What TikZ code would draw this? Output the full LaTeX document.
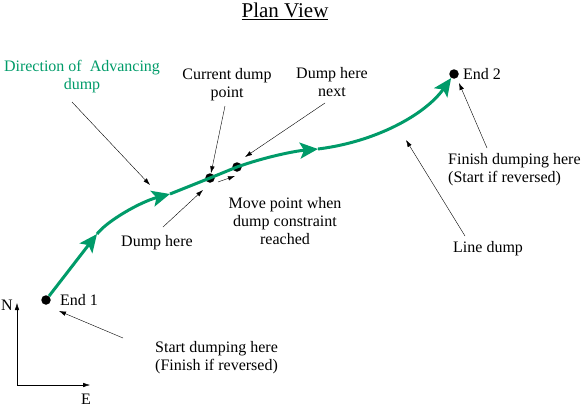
\documentclass[tikz,border=0pt]{standalone}
\usepackage{fontspec}
\setmainfont{Liberation Serif}
\usetikzlibrary{arrows.meta}
\definecolor{dumpgreen}{RGB}{0,155,105}
\begin{document}
\begin{tikzpicture}[x=1pt,y=-1pt,
        lbl/.style={inner sep=0pt,font=\fontsize{16}{18}\selectfont,align=center},
        dot/.style={circle,fill=black,inner sep=0pt,minimum size=9.5pt},
        pointer/.style={thin,-{Latex[length=7pt,width=4.5pt]}},
        advance/.style={dumpgreen,line width=3pt,-{Stealth[length=18pt,width=16pt,inset=4pt]}}]
        \useasboundingbox (0,0) rectangle (586,407);
        %% Title
        \node[lbl,font=\fontsize{21}{24}\selectfont] (title) at (285,11) {\underline{Plan View}};
        %% Dump points
        \node[dot] (e1) at (46,300) {};
        \node[dot] (dcur) at (210,178) {};
        \node[dot] (dnext) at (237,167) {};
        \node[dot] (e2) at (454,74) {};
        \coordinate (g1) at (97,234);
        \coordinate (g2) at (170,194);
        \coordinate (g3) at (318,149);
        %% Line dump
        \draw[advance] (e1) -- (g1);
        \draw[advance] (g1) .. controls (107,221) and (140,202) .. (g2);
        \draw[advance] (g2) -- (dcur.center) -- (dnext.center) .. controls (265,157) and (295,151) .. (g3);
        \draw[advance] (g3) .. controls (375,142) and (425,115) .. (e2);
        %% Labels
        \node[lbl,text=dumpgreen] (dir) at (82,77) {Direction of\ \ Advancing\\dump};
        \node[lbl] (cur) at (227,85) {Current dump\\point};
        \node[lbl] (next) at (332,82) {Dump here\\next};
        \node[lbl] (move) at (285,221) {Move point when\\dump constraint\\reached};
        \node[lbl] (here) at (157,243) {Dump here};
        \node[lbl,anchor=west] (end1) at (60,300) {End 1};
        \node[lbl,anchor=west,align=left] (start) at (155,358) {Start dumping here\\(Finish if reversed)};
        \node[lbl,anchor=west] (end2) at (463,74) {End 2};
        \node[lbl,anchor=west,align=left] (finish) at (448,170) {Finish dumping here\\(Start if reversed)};
        \node[lbl,anchor=west] (line) at (453,249) {Line dump};
        %% Pointers
        \coordinate (dirtail) at (72,102);
        \coordinate (dirhead) at (150,185);
        \coordinate (curtail) at (225,106);
        \coordinate (nexttail) at (325,103);
        \coordinate (nexthead) at (245,157);
        \coordinate (movetail) at (218,182);
        \coordinate (movehead) at (235,176);
        \coordinate (heretail) at (163,227);
        \coordinate (herehead) at (203,190);
        \coordinate (starttail) at (123,338);
        \coordinate (starthead) at (59,311);
        \coordinate (finishtail) at (487,148);
        \coordinate (finishhead) at (459,83);
        \coordinate (linetail) at (465,236);
        \coordinate (linehead) at (406,140);
        \draw[pointer] (dirtail) -- (dirhead);
        \draw[pointer] (curtail) -- (dcur);
        \draw[pointer] (nexttail) -- (nexthead);
        \draw[pointer] (movetail) -- (movehead);
        \draw[pointer] (heretail) -- (herehead);
        \draw[pointer] (starttail) -- (starthead);
        \draw[pointer] (finishtail) -- (finishhead);
        \draw[pointer] (linetail) -- (linehead);
        %% Compass
        \coordinate (origin) at (17,385);
        \coordinate (north) at (17,303);
        \coordinate (east) at (90,385);
        \draw[pointer] (origin) -- (north);
        \draw[pointer] (origin) -- (east);
        \node[lbl] (N) at (7,305) {N};
        \node[lbl] (E) at (86,399) {E};
    \end{tikzpicture}
\end{document}
